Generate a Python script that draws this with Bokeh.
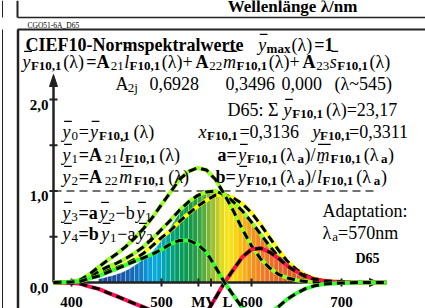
from collections import defaultdict
from bokeh.plotting import figure
from bokeh.models import Range1d
from bokeh.core.properties import value
from bokeh.embed import file_html
from bokeh.resources import INLINE

# ---------------- data ----------------
WL = list(range(380, 760, 10))
# ybar0 = ybar F10,1 (lime dashed)
YBAR = [0.000, 0.002, 0.006, 0.020, 0.060, 0.120, 0.170, 0.210, 0.260, 0.320,
        0.390, 0.480, 0.580, 0.680, 0.790, 0.880, 0.950, 0.990, 1.000, 0.960,
        0.880, 0.780, 0.660, 0.530, 0.400, 0.280, 0.180, 0.110, 0.060, 0.032,
        0.016, 0.008, 0.004, 0.002, 0.001, 0.000, 0.000, 0.000]
# a * ybar2 (lime dashed, highest)
M_CURVE = [0.000, 0.003, 0.010, 0.030, 0.090, 0.168, 0.243, 0.311, 0.390, 0.483,
           0.589, 0.712, 0.851, 0.988, 1.127, 1.214, 1.252, 1.229, 1.125, 0.960,
           0.780, 0.580, 0.400, 0.260, 0.160, 0.090, 0.050, 0.025, 0.012, 0.006,
           0.003, 0.001, 0.000, 0.000, 0.000, 0.000, 0.000, 0.000]
# b * ybar1 (yellow dashed)
L_CURVE = [0.000, 0.001, 0.004, 0.016, 0.045, 0.098, 0.133, 0.161, 0.200, 0.253,
           0.319, 0.402, 0.491, 0.568, 0.667, 0.754, 0.832, 0.899, 0.955, 0.960,
           0.922, 0.860, 0.762, 0.635, 0.493, 0.354, 0.230, 0.143, 0.079, 0.042,
           0.021, 0.011, 0.0055, 0.003, 0.001, 0.000, 0.000, 0.000]
# ybar3 = a ybar2 - b ybar1 (green)
Y3 = [0.000, 0.002, 0.006, 0.014, 0.045, 0.070, 0.110, 0.150, 0.190, 0.230,
      0.270, 0.310, 0.360, 0.420, 0.460, 0.460, 0.420, 0.330, 0.170, 0.000,
      -0.142, -0.280, -0.362, -0.375, -0.333, -0.264, -0.180, -0.118, -0.067, -0.036,
      -0.018, -0.010, -0.0055, -0.003, -0.001, 0.000, 0.000, 0.000]
# ybar4 = b ybar1 - a ybar2 (red)
Y4 = [0.000, -0.002, -0.006, -0.014, -0.045, -0.070, -0.110, -0.150, -0.190, -0.230,
      -0.270, -0.310, -0.360, -0.420, -0.460, -0.460, -0.420, -0.330, -0.170, 0.000,
      0.142, 0.280, 0.362, 0.375, 0.333, 0.264, 0.180, 0.118, 0.067, 0.036,
      0.018, 0.010, 0.0055, 0.003, 0.001, 0.000, 0.000, 0.000]

FILL_WL = list(range(430, 705, 5))
FILL_Y = [0.0387, 0.0496, 0.0621, 0.0747, 0.0895, 0.1063, 0.1282, 0.1528, 0.1852, 0.2199,
          0.2536, 0.2977, 0.3391, 0.3954, 0.4608, 0.5314, 0.6067, 0.6857, 0.7618, 0.8233,
          0.8752, 0.9238, 0.9620, 0.9822, 0.9918, 0.9991, 0.9973, 0.9824, 0.9555, 0.9152,
          0.8689, 0.8256, 0.7774, 0.7203, 0.6583, 0.5939, 0.5280, 0.4618, 0.3981, 0.3396,
          0.2835, 0.2283, 0.1798, 0.1402, 0.1076, 0.0812, 0.0603, 0.0441, 0.0318, 0.0226,
          0.0159, 0.0111, 0.0077, 0.0054, 0.0037]
FILL_COLORS = ["#1c4a9a", "#1c4a9a", "#1b4d9e", "#1a51a2", "#1955a6", "#185aab", "#1661b1",
               "#1469b8", "#1173c0", "#0e7fc9", "#0b8ed3", "#089fdd", "#07aae0", "#05a9cf",
               "#03a5b5", "#02a399", "#02a07e", "#049d68", "#079b58", "#0b9a4f", "#14994a",
               "#239c46", "#3aa342", "#58ab3c", "#7bb635", "#9ec02e", "#c1cb26", "#e0d91e",
               "#f5e416", "#fbe012", "#fcd20f", "#fbc010", "#f9ae14", "#f79e19", "#f5901d",
               "#f38620", "#f17d22", "#ef7524", "#ed6e25", "#eb6826", "#e96326", "#e75e26",
               "#e55a26", "#e35626", "#e15326", "#df5026", "#dd4e26", "#db4c26", "#d94a26",
               "#d74826", "#d54626", "#d34426", "#d14226", "#cf4026"]

Y_TICKS = [0.5, 1.0, 1.5, 2.0]
Y_LABEL_VALUES = [0.0, 1.0, 2.0]
Y_LABELS = ["0,0", "1,0", "2,0"]
X_TICKS = [400, 500, 600, 700]
X_LABELS = ["400", "500", "600", "700"]
CONE_WL = [541, 555, 570]
CONE_LABELS = ["M", "V", "L"]
WL_START, WL_ARROW = 380, 741

# ---------------- pixel <-> data mapping ----------------
W, H, OFF = 425, 308, 0
PX0, NM0, PXNM = 71.0, 400.0, 0.9
PY0, PYU = 282.0, 91.5


def X(px):
    return NM0 + (px - PX0) / PXNM


def Y(py):
    return (PY0 - py) / PYU


def PX(lam):
    return PX0 + (lam - NM0) * PXNM


p = figure(width=W, height=H, output_backend="svg", toolbar_location=None,
           x_range=Range1d(X(OFF), X(OFF + W)), y_range=Range1d(Y(OFF + H), Y(OFF)),
           min_border=0, x_axis_type=None, y_axis_type=None)
p.outline_line_color = None
p.background_fill_color = "white"
p.border_fill_color = "white"

# ---------------- frames ----------------
p.segment(x0=[X(2), X(2), X(17), X(17), X(17), X(17.5)],
          y0=[Y(0), Y(29), Y(0), Y(17), Y(29), Y(29)],
          x1=[X(2), X(2), X(17), X(425), X(425), X(17.5)],
          y1=[Y(17), Y(310), Y(17), Y(17), Y(29), Y(310)],
          line_color="#222222", line_width=[1, 1, 2, 1.5, 2, 2.5])

# ---------------- spectrum fill ----------------
xs, ys = [], []
for i in range(len(FILL_WL) - 1):
    xs.append([FILL_WL[i], FILL_WL[i], FILL_WL[i + 1], FILL_WL[i + 1]])
    ys.append([0, FILL_Y[i], FILL_Y[i + 1], 0])
p.patches(xs, ys, fill_color=FILL_COLORS[:len(xs)], line_color="white",
          line_width=0.6, line_alpha=0.45)

# ---------------- dashed reference line at 1.0 ----------------
p.line([WL_START, WL_ARROW], [1.0, 1.0], line_color="#444444", line_width=1.5,
       line_dash="8 5")

# ---------------- axes ----------------
p.segment(x0=[WL_START], y0=[0], x1=[WL_START], y1=[Y(84)], line_color="#222222", line_width=2.5)
p.patch([WL_START, X(PX(WL_START) - 4), X(PX(WL_START) + 4)], [Y(74), Y(86), Y(86)],
        color="#222222")
p.segment(x0=[WL_START], y0=[0], x1=[X(372)], y1=[0], line_color="#222222", line_width=2.5)
p.patch([X(378), X(369), X(369)], [0, Y(278), Y(286)], color="#222222")
p.segment(x0=[X(PX(WL_START) - 4)] * len(Y_TICKS), y0=Y_TICKS,
          x1=[X(PX(WL_START) + 4)] * len(Y_TICKS), y1=Y_TICKS,
          line_color="#222222", line_width=2)
tick_wl = X_TICKS + CONE_WL[:2]
p.segment(x0=tick_wl, y0=[Y(278)] * len(tick_wl), x1=tick_wl, y1=[Y(286)] * len(tick_wl),
          line_color="#222222", line_width=2)

# ---------------- curves ----------------
curves = [(L_CURVE, "#ffff00"), (YBAR, "#99ff22"), (M_CURVE, "#99ff22"),
          (Y4, "#ff1050"), (Y3, "#33ff33")]
for vals, col in curves:
    p.line(WL, vals, line_color=col, line_width=4)
    p.line(WL, vals, line_color="black", line_width=3, line_dash="8 5")

# ---------------- texts ----------------
FONT = "Liberation Serif"
S, SS, SUB_DY = 18, 13, 4
TR = {' ': 250, '(': 333, ')': 333, '+': 564, ',': 250, '-': 333, '/': 278, ':': 278,
      '=': 564, '~': 541, 'A': 722, 'C': 667, 'D': 722, 'E': 611, 'F': 556, 'G': 722,
      'I': 333, 'L': 611, 'M': 889, 'N': 722, 'O': 722, 'V': 722, '_': 500, 'a': 444,
      'b': 500, 'd': 500, 'e': 444, 'i': 278, 'j': 278, 'k': 500, 'l': 278, 'm': 778,
      'n': 500, 'o': 500, 'p': 500, 'r': 333, 's': 389, 't': 278, 'w': 722, 'x': 500,
      'y': 500, 'λ': 549, 'Σ': 592, '−': 564}
TB = dict(TR)
TB.update({'+': 570, ':': 333, '=': 570, 'C': 722, 'E': 667, 'F': 611, 'I': 389,
           'a': 500, 'b': 556, 'k': 556, 'm': 833, 'p': 556, 'r': 444, 't': 333, '−': 570})
TI = dict(TR)
TI.update({'y': 444, 'm': 722, 'x': 444})
TABLES = {'r': TR, 'b': TB, 'i': TI}
STYLES = {'r': "normal", 'b': "bold", 'i': "italic"}

groups = defaultdict(lambda: {"x": [], "y": [], "text": []})
bars = {"x0": [], "x1": [], "y": []}


def add_text(px, py, t, st, size, align="left"):
    g = groups[(st, size, align)]
    g["x"].append(X(px))
    g["y"].append(Y(py))
    g["text"].append(t)


def seg_w(t, st, size):
    tab = TABLES[st]
    return sum(tab.get(c, 500) for c in t) / 1000.0 * size


def chain(px0, px1, py, segs):
    widths = [seg_w(t, st, SS if sub else S) for t, st, sub, bar in segs]
    k = 1.0
    if px1 is not None:
        k = min(1.12, max(0.92, (px1 - px0) / sum(widths)))
    x = px0
    for (t, st, sub, bar), w in zip(segs, widths):
        size = SS if sub else S
        add_text(x, py + (SUB_DY if sub else 0), t, st, size)
        if bar:
            h = 0.76 * S if t == "l" else 0.56 * S
            bars["x0"].append(X(x + 1.6))
            bars["x1"].append(X(x + w + 1.3))
            bars["y"].append(Y(py - h))
        x += w * k


chain(25, 334, 44, [("CIEF10-Normspektralwerte ", 'b', 0, 0), ("y", 'i', 0, 1),
                    ("max", 'b', 1, 0), ("(λ)", 'r', 0, 0), ("=1", 'b', 0, 0)])
F = ("F10,1", 'b', 1, 0)
chain(22, 392, 61, [("y", 'i', 0, 1), F, ("(λ)", 'r', 0, 0), ("=A", 'b', 0, 0),
                    ("21", 'r', 1, 0), ("l", 'i', 0, 1), F, ("(λ)+", 'r', 0, 0),
                    ("A", 'b', 0, 0), ("22", 'r', 1, 0), ("m", 'i', 0, 1), F,
                    ("(λ)+", 'r', 0, 0), ("A", 'b', 0, 0), ("23", 'r', 1, 0),
                    ("s", 'i', 0, 1), F, ("(λ)", 'r', 0, 0)])
chain(115, 137, 83, [("A", 'r', 0, 0), ("2j", 'r', 1, 0)])
add_text(149, 83, "0,6928", 'r', S)
add_text(225, 83, "0,3496", 'r', S)
add_text(281, 83, "0,000", 'r', S)
add_text(334, 83, "(λ~545)", 'r', S)
chain(227, 405, 109, [("D65: Σ", 'r', 0, 0), ("y", 'i', 0, 1), F, ("(λ)=23,17", 'r', 0, 0)])
chain(62, 158, 131, [("y", 'i', 0, 1), ("0", 'r', 1, 0), ("=", 'r', 0, 0), ("y", 'i', 0, 1),
                     F, ("(λ)", 'r', 0, 0)])
chain(198, 302, 131, [("x", 'i', 0, 0), F, ("=0,3136", 'r', 0, 0)])
chain(312, 405, 131, [("y", 'i', 0, 0), F, ("=0,3311", 'r', 0, 0)])
chain(62, 185, 154, [("y", 'i', 0, 1), ("1", 'r', 1, 0), ("=A", 'b', 0, 0), ("21", 'r', 1, 0),
                     ("l", 'i', 0, 1), F, ("(λ)", 'r', 0, 0)])
chain(217, 394, 154, [("a=", 'b', 0, 0), ("y", 'i', 0, 1), F, ("(λ", 'r', 0, 0),
                      ("a", 'b', 1, 0), (")/", 'r', 0, 0), ("m", 'i', 0, 1), F,
                      ("(λ", 'r', 0, 0), ("a", 'b', 1, 0), (")", 'r', 0, 0)])
chain(62, 193, 176, [("y", 'i', 0, 1), ("2", 'r', 1, 0), ("=A", 'b', 0, 0), ("22", 'r', 1, 0),
                     ("m", 'i', 0, 1), F, ("(λ)", 'r', 0, 0)])
chain(215, 387, 176, [("b=", 'b', 0, 0), ("y", 'i', 0, 1), F, ("(λ", 'r', 0, 0),
                      ("a", 'b', 1, 0), (")/", 'r', 0, 0), ("l", 'i', 0, 1), F,
                      ("(λ", 'r', 0, 0), ("a", 'b', 1, 0), (")", 'r', 0, 0)])
chain(62, 152, 212, [("y", 'i', 0, 1), ("3", 'r', 1, 0), ("=a", 'b', 0, 0), ("y", 'i', 0, 1),
                     ("2", 'r', 1, 0), ("−b", 'r', 0, 0), ("y", 'i', 0, 1), ("1", 'r', 1, 0)])
chain(62, 153, 233, [("y", 'i', 0, 1), ("4", 'r', 1, 0), ("=b", 'b', 0, 0), ("y", 'i', 0, 1),
                     ("1", 'r', 1, 0), ("−a", 'r', 0, 0), ("y", 'i', 0, 1), ("2", 'r', 1, 0)])
add_text(322, 210, "Adaptation:", 'r', S)
chain(322, 397, 232, [("λ", 'r', 0, 0), ("a", 'r', 1, 0), ("=570nm", 'r', 0, 0)])
add_text(355, 258, "D65", 'b', 14)
add_text(27, 25, "CGO51-6A_D65", 'r', 7.5)
add_text(292, 6, "Wellenlänge λ/nm", 'b', 17, "center")

for v, lab in zip(Y_LABEL_VALUES, Y_LABELS):
    add_text(48, PY0 - v * PYU + 5, lab, 'b', 15, "right")
for w, lab in zip(X_TICKS, X_LABELS):
    add_text(PX(w), 301, lab, 'b', 15, "center")
for w, lab in zip(CONE_WL, CONE_LABELS):
    add_text(PX(w) + (0 if lab != "L" else 3), 301, lab, 'b', 15, "center")

for (st, size, align), g in groups.items():
    p.text(x=g["x"], y=g["y"], text=g["text"], text_font=value(FONT),
           text_font_size=f"{size}px", text_font_style=STYLES[st], text_align=align,
           text_baseline="alphabetic", text_color="black")
p.segment(x0=bars["x0"], y0=bars["y"], x1=bars["x1"], y1=bars["y"], line_color="black",
          line_width=1.1)

open("out.html", "w").write(file_html(p, INLINE))
